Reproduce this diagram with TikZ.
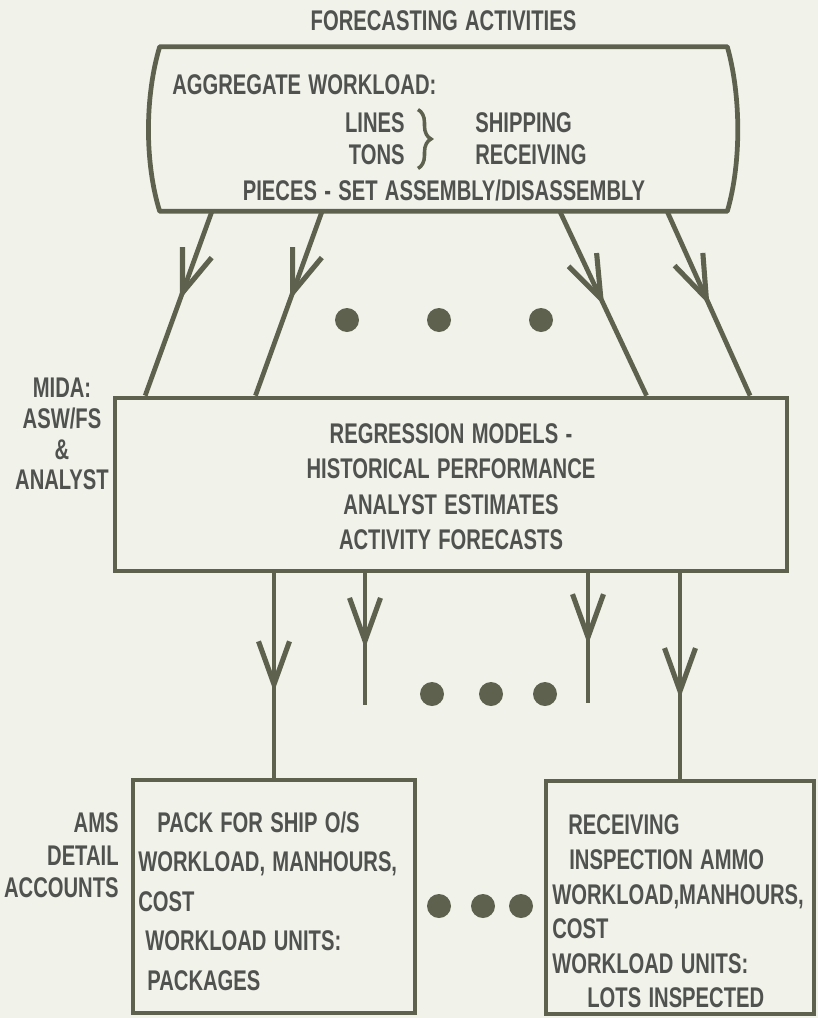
\documentclass[tikz,border=0pt]{standalone}
\usepackage{fontspec}
\newfontfamily\gothic{Liberation Sans}[FakeStretch=0.71, WordSpace=1.3]
\usetikzlibrary{positioning, arrows.meta, calc, decorations.markings, decorations.pathreplacing}
\definecolor{paper}{RGB}{241, 242, 234}
\definecolor{ink}{RGB}{94, 97, 78}
\definecolor{typeink}{RGB}{80, 82, 80}
\newcommand{\gothicfont}[1]{\gothic\bfseries\fontsize{16.2}{#1}\selectfont}
\tikzset{
  box/.style={rectangle, draw=ink, line width=2.7pt, inner sep=0pt},
  txt/.style={inner sep=0pt, text=typeink, font=\gothicfont{18}},
  flow/.style={draw=ink, line width=2.7pt, postaction={decorate},
    decoration={markings, mark=at position #1 with {\arrow{Straight Barb[length=0.86cm, width=0.62cm, line width=2.9pt]}}}},
  flow/.default=0.5,
  blob/.style={circle, fill=ink, minimum size=0.48cm, inner sep=0pt}
}

\begin{document}
\begin{tikzpicture}[x=0.02cm, y=-0.02cm]
    % Fondo del papel
    \fill[paper] (0,0) rectangle (818,1018);
    \useasboundingbox (0,0) rectangle (818,1018);

    % Caja superior con lados curvos
    \node (agg) [minimum width=11.34cm, minimum height=3.28cm, inner sep=0pt] at (443.5,129) {};
    \draw[ink, line width=2.7pt, line join=round] (agg.north west) -- (agg.north east)
        .. controls +(14,50) and +(14,-48) .. (agg.south east) -- (agg.south west)
        .. controls +(-15,-48) and +(-15,50) .. (agg.north west) -- cycle;
    \node (title) [txt, above=0.31cm of agg] {FORECASTING ACTIVITIES};
    \node (aggwl) [txt, anchor=west] at (172,85) {AGGREGATE WORKLOAD:};
    \node (units) [txt, align=right, anchor=east, font=\gothicfont{18.2}] at (405,139) {LINES\\TONS};
    \draw[ink, line width=2pt, decorate, decoration={brace, amplitude=0.26cm}]
        ([xshift=0.26cm, yshift=0.06cm]units.north east) -- ([xshift=0.26cm, yshift=-0.06cm]units.south east);
    \node (flows) [txt, align=left, anchor=west, font=\gothicfont{18.2}] at (475,139) {SHIPPING\\RECEIVING};
    \node (pieces) [txt] at (444,190) {PIECES - SET ASSEMBLY/DISASSEMBLY};

    % Caja central y etiqueta a la izquierda
    \node (mida) [box, minimum width=13.44cm, minimum height=3.46cm] at (451,484.5) {};
    \node (methods) [txt, align=center, font=\gothicfont{20.2}] at (451,486.5)
        {REGRESSION MODELS -\\HISTORICAL PERFORMANCE\\ANALYST ESTIMATES\\ACTIVITY FORECASTS};
    \node (midalbl) [txt, align=center, font=\gothicfont{17.5}] at (62,434) {MIDA:\\ASW/FS\\\&\\ANALYST};

    % Flechas inclinadas hacia la caja central
    \foreach \a/\b/\p in {0.092/0.048/0.48, 0.286/0.211/0.48, 0.705/0.789/0.51, 0.894/0.942/0.51}
        \draw[flow=\p] ($(agg.south west)!\a!(agg.south east)$) -- ($(mida.north west)!\b!(mida.north east)$);
    \node (g1) [blob] at (347,320) {};
    \node (g2) [blob] at (439,320) {};
    \node (g3) [blob] at (541,320) {};

    % Cuentas de detalle
    \node (pack) [box, minimum width=5.64cm, minimum height=4.66cm] at (274,896.5) {};
    \node (recv) [box, minimum width=5.36cm, minimum height=4.66cm] at (680,897.5) {};
    \node (amslbl) [txt, align=right, anchor=east, font=\gothicfont{18.5}] at (119,855.5) {AMS\\DETAIL\\ACCOUNTS};
    \node (packtxt) [txt, align=left, anchor=west, font=\gothicfont{22.5}] at (138,901)
        {\hspace*{0.38cm}PACK FOR SHIP O/S\\WORKLOAD, MANHOURS,\\COST\\\hspace*{0.14cm}WORKLOAD UNITS:\\\hspace*{0.18cm}PACKAGES};
    \node (recvtxt) [txt, align=left, anchor=west, font=\gothicfont{19.7}] at (552,911.5)
        {\hspace*{0.32cm}RECEIVING\\\hspace*{0.34cm}INSPECTION AMMO\\WORKLOAD,MANHOURS,\\COST\\WORKLOAD UNITS:\\\hspace*{0.7cm}LOTS INSPECTED};

    % Flechas verticales
    \coordinate (stubB) at (365,705);
    \coordinate (stubC) at (588,703);
    \draw[flow=0.58] (mida.south -| pack.north) -- (pack.north);
    \draw[flow=0.57] (mida.south -| stubB) -- (stubB);
    \draw[flow=0.55] (mida.south -| stubC) -- (stubC);
    \draw[flow=0.61] (mida.south -| recv.north) -- (recv.north);
    \node (h1) [blob] at (432,694) {};
    \node (h2) [blob] at (491,694) {};
    \node (h3) [blob] at (545,694) {};
    \node (k1) [blob] at (439,906) {};
    \node (k2) [blob] at (483,906) {};
    \node (k3) [blob] at (521,906) {};
\end{tikzpicture}
\end{document}
